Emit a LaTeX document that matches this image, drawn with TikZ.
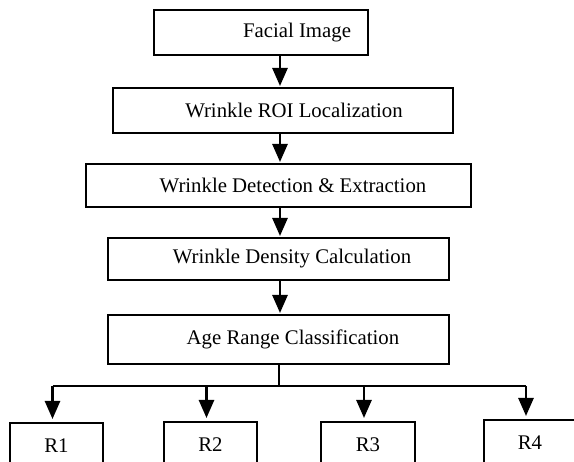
\documentclass[tikz,border=0pt]{standalone}
\usepackage{fontspec}
\setmainfont{Liberation Serif}
\usepackage{tikz}
\usetikzlibrary{arrows.meta}

\begin{document}
\begin{tikzpicture}[x=1pt,y=-1pt,
        stage/.style={draw=black, line width=2pt, inner sep=0pt,
            font=\fontsize{20.8}{25}\selectfont},
        flow/.style={draw=black, line width=2.6pt,
            -{Triangle[length=18pt,width=15pt]}, shorten >=1pt},
        wire/.style={draw=black, line width=2pt}]
        \useasboundingbox (0,0) rectangle (574,462);
        \clip (0,0) rectangle (574,462);
        % processing chain
        \node [stage, minimum width=214pt, minimum height=45pt] (img) at (261,32.5) {\hspace*{72pt}Facial Image};
        \node [stage, minimum width=340pt, minimum height=45pt] (roi) at (283,110.5) {\hspace*{22pt}Wrinkle ROI Localization};
        \node [stage, minimum width=385pt, minimum height=43pt] (det) at (278.5,185.5) {\hspace*{29pt}Wrinkle Detection \& Extraction};
        \node [stage, minimum width=341pt, minimum height=42pt] (den) at (278.5,259) {\hspace*{27pt}Wrinkle Density Calculation};
        \node [stage, minimum width=341pt, minimum height=49pt] (age) at (278.5,339.5) {\hspace*{29pt}Age Range Classification};
        % age ranges
        \node [stage, minimum width=93pt, minimum height=46pt] (r1) at (56.5,446) {R1};
        \node [stage, minimum width=93pt, minimum height=46pt] (r2) at (210.5,445) {R2};
        \node [stage, minimum width=94pt, minimum height=46pt] (r3) at (368,445) {R3};
        \node [stage, minimum width=92pt, minimum height=46pt] (r4) at (530,443) {R4};
        \coordinate (axis) at (280,0);
        \coordinate (bus) at (279,386);
        \draw [flow] (img.south -| axis) -- (roi.north -| axis);
        \draw [flow] (roi.south -| axis) -- (det.north -| axis);
        \draw [flow] (det.south -| axis) -- (den.north -| axis);
        \draw [flow] (den.south -| axis) -- (age.north -| axis);
        \draw [wire] (age.south -| bus) -- (bus);
        \draw [wire] ([xshift=-4pt]r1.north |- bus) -- ([xshift=-4pt]r4.north |- bus);
        \foreach \r in {r1,r2,r3,r4}
            \draw [flow, shorten >=3pt] ([xshift=-4pt]\r.north |- bus) -- ([xshift=-4pt]\r.north);
    \end{tikzpicture}
\end{document}
